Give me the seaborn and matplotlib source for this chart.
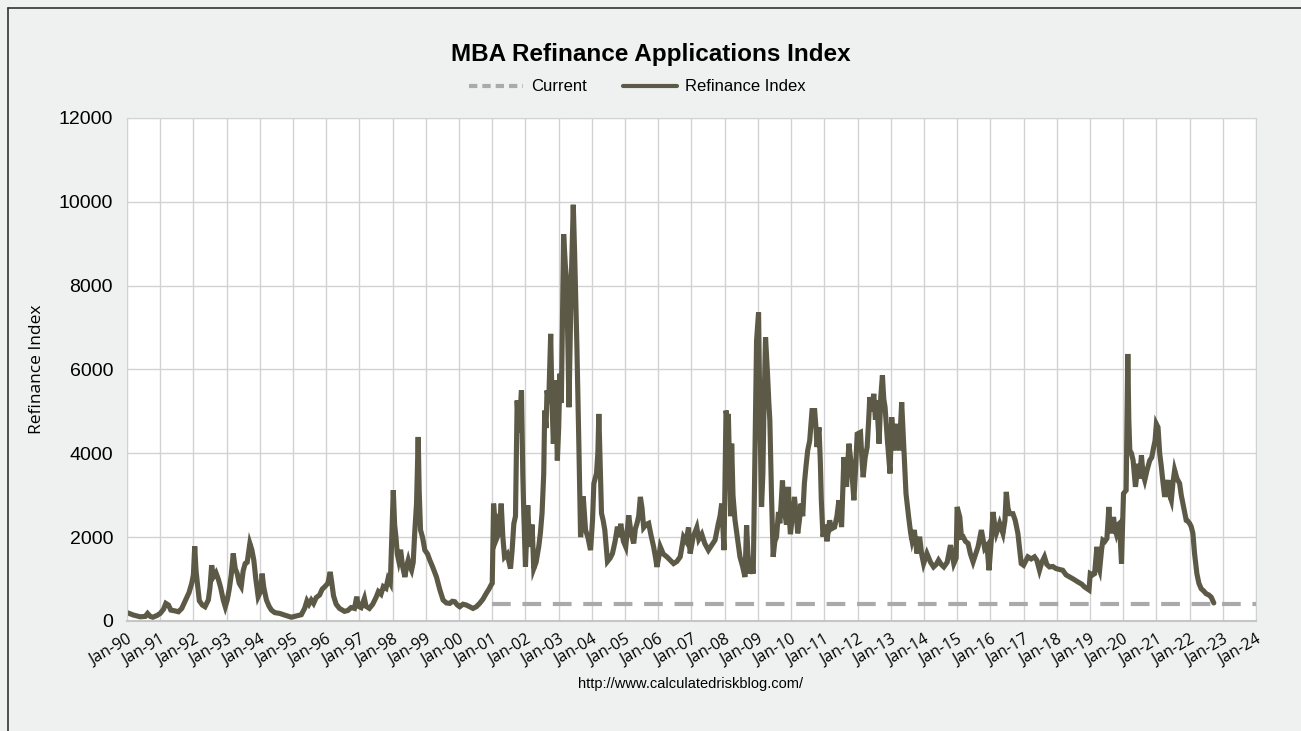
import pandas as pd
import matplotlib.pyplot as plt
import seaborn as sns
from matplotlib.lines import Line2D

# values (decimal year, index)
years_90s = [1990.0, 1990.2, 1990.4, 1990.55, 1990.62, 1990.7, 1990.78, 1990.9, 1991.0, 1991.1,
             1991.17, 1991.25, 1991.32, 1991.45, 1991.55, 1991.65, 1991.72, 1991.8, 1991.87, 1991.95,
             1992.0, 1992.04, 1992.08, 1992.12, 1992.18, 1992.27, 1992.35, 1992.45, 1992.5, 1992.55,
             1992.6, 1992.68, 1992.75, 1992.82, 1992.9, 1992.96, 1993.02, 1993.08, 1993.14, 1993.2,
             1993.26, 1993.32, 1993.38, 1993.44, 1993.5, 1993.56, 1993.62, 1993.7, 1993.76, 1993.82,
             1993.88, 1993.95, 1994.02, 1994.07, 1994.12, 1994.2, 1994.28, 1994.35, 1994.45, 1994.6,
             1994.75, 1994.95, 1995.1, 1995.25, 1995.35, 1995.42, 1995.48, 1995.55, 1995.62, 1995.7,
             1995.8, 1995.88, 1995.96, 1996.05, 1996.12, 1996.17, 1996.22, 1996.3, 1996.4, 1996.55,
             1996.65, 1996.75, 1996.85, 1996.92, 1996.97, 1997.05, 1997.15, 1997.2, 1997.3, 1997.4,
             1997.5, 1997.57, 1997.65, 1997.72, 1997.8, 1997.86, 1997.93, 1998.02, 1998.06, 1998.1,
             1998.14, 1998.18, 1998.24, 1998.3, 1998.37, 1998.42, 1998.47, 1998.52, 1998.57, 1998.62,
             1998.67, 1998.72, 1998.77, 1998.8, 1998.84, 1998.9, 1998.97, 1999.05, 1999.12, 1999.2,
             1999.32, 1999.42, 1999.52, 1999.62, 1999.72, 1999.8, 1999.87, 1999.95]
index_90s = [200, 140, 100, 110, 180, 110, 90, 130, 180, 280,
             420, 380, 260, 240, 220, 300, 420, 560, 680, 900,
             1100, 1780, 1200, 900, 480, 380, 340, 500, 800, 1330,
             1050, 1150, 1000, 800, 500, 340, 500, 760, 1100, 1610,
             1250, 1130, 900, 820, 1200, 1370, 1400, 1850, 1700, 1450,
             1000, 580, 700, 1130, 800, 500, 350, 260, 200, 180,
             140, 90, 120, 150, 300, 480, 400, 500, 420, 560,
             620, 760, 820, 900, 1170, 900, 600, 400, 300, 230,
             250, 320, 300, 580, 350, 320, 540, 350, 300, 400,
             560, 700, 640, 820, 780, 1000, 900, 3120, 2300, 2000,
             1600, 1450, 1700, 1300, 1050, 1300, 1450, 1300, 1210, 1400,
             2170, 2800, 4390, 3100, 2170, 2000, 1690, 1600, 1450, 1300,
             1050, 750, 500, 430, 420, 470, 460, 380]

years_00s = [2000.02, 2000.12, 2000.22, 2000.32, 2000.42, 2000.52, 2000.62, 2000.72, 2000.82, 2000.9,
             2000.96, 2001.0, 2001.04, 2001.08, 2001.12, 2001.15, 2001.2, 2001.27, 2001.32, 2001.37,
             2001.45, 2001.55, 2001.6, 2001.65, 2001.7, 2001.75, 2001.8, 2001.88, 2001.92, 2001.95,
             2002.0, 2002.07, 2002.11, 2002.15, 2002.2, 2002.25, 2002.32, 2002.4, 2002.45, 2002.5,
             2002.55, 2002.58, 2002.62, 2002.65, 2002.7, 2002.76, 2002.8, 2002.84, 2002.88, 2002.91,
             2002.96, 2003.0, 2003.04, 2003.08, 2003.12, 2003.15, 2003.2, 2003.24, 2003.28, 2003.31,
             2003.35, 2003.38, 2003.41, 2003.44, 2003.48, 2003.5, 2003.55, 2003.61, 2003.66, 2003.7,
             2003.74, 2003.78, 2003.81, 2003.88, 2003.96, 2004.02, 2004.06, 2004.14, 2004.18, 2004.21,
             2004.25, 2004.29, 2004.34, 2004.39, 2004.43, 2004.47, 2004.55, 2004.62, 2004.7, 2004.77,
             2004.82, 2004.87, 2004.95, 2005.02, 2005.07, 2005.11, 2005.18, 2005.26, 2005.31, 2005.36,
             2005.41, 2005.46, 2005.51, 2005.56, 2005.63, 2005.71, 2005.78, 2005.86, 2005.92, 2005.96,
             2006.02, 2006.06, 2006.15, 2006.26, 2006.36, 2006.46, 2006.56, 2006.66, 2006.72, 2006.76,
             2006.84, 2006.91, 2006.96, 2007.05, 2007.16, 2007.22, 2007.31, 2007.4, 2007.51, 2007.6,
             2007.71, 2007.81, 2007.86, 2007.91, 2007.98, 2008.04, 2008.08, 2008.11, 2008.15, 2008.18,
             2008.21, 2008.25, 2008.31, 2008.38, 2008.46, 2008.54, 2008.61, 2008.66, 2008.7, 2008.76,
             2008.82, 2008.86, 2008.91, 2008.96, 2009.02, 2009.06, 2009.11, 2009.15, 2009.18, 2009.23,
             2009.29, 2009.33, 2009.36, 2009.41, 2009.46, 2009.51, 2009.56, 2009.62, 2009.66, 2009.7,
             2009.74, 2009.78, 2009.81, 2009.86, 2009.91, 2009.95, 2009.98]
index_00s = [340, 400, 380, 340, 300, 340, 420, 520, 660, 760,
             850, 900, 2800, 2400, 2550, 2000, 2100, 2800, 2000, 1530,
             1600, 1250, 1700, 2320, 2500, 5260, 4500, 5500, 3500, 2570,
             1290, 2760, 2000, 1770, 2300, 1250, 1400, 1770, 2100, 2570,
             3500, 5020, 4600, 5500, 5200, 6850, 5200, 4230, 5000, 5740,
             3830, 4600, 5900, 5200, 7500, 9230, 8500, 8120, 6500, 5100,
             6800, 8120, 9000, 9930, 8800, 8120, 6530, 4150, 2000, 2400,
             2970, 2500, 2170, 2000, 1690, 2400, 3280, 3520, 4000, 4940,
             3800, 2570, 2400, 2170, 1800, 1420, 1500, 1610, 1900, 2250,
             2000, 2320, 1900, 1770, 2200, 2520, 2100, 1850, 2200, 2330,
             2500, 2960, 2700, 2230, 2300, 2330, 2050, 1770, 1500, 1290,
             1550, 1770, 1600, 1530, 1450, 1370, 1420, 1530, 1800, 2000,
             1900, 2230, 1610, 2000, 2230, 1950, 2070, 1850, 1690, 1800,
             1930, 2330, 2500, 2800, 1690, 5020, 4800, 4940, 3500, 2500,
             4230, 3000, 2410, 2000, 1530, 1300, 1050, 2280, 1600, 1130,
             1300, 1130, 3830, 6690, 7360, 4940, 2720, 3500, 4940, 6770,
             5890, 5200, 4780, 3000, 1530, 1900, 2000, 2600, 2330, 2800,
             3350, 2700, 2570, 2300, 3200, 2400, 2070]

years_10s = [2010.05, 2010.1, 2010.16, 2010.2, 2010.25, 2010.3, 2010.35, 2010.4, 2010.45, 2010.5,
             2010.56, 2010.63, 2010.71, 2010.75, 2010.78, 2010.84, 2010.88, 2010.91, 2010.96, 2011.02,
             2011.08, 2011.16, 2011.22, 2011.31, 2011.38, 2011.44, 2011.52, 2011.59, 2011.63, 2011.67,
             2011.74, 2011.82, 2011.89, 2011.94, 2011.99, 2012.09, 2012.13, 2012.17, 2012.23, 2012.29,
             2012.33, 2012.37, 2012.43, 2012.49, 2012.54, 2012.58, 2012.65, 2012.7, 2012.75, 2012.79,
             2012.83, 2012.9, 2012.98, 2013.03, 2013.1, 2013.15, 2013.2, 2013.26, 2013.33, 2013.4,
             2013.46, 2013.54, 2013.6, 2013.64, 2013.71, 2013.79, 2013.87, 2013.93, 2013.99, 2014.09,
             2014.2, 2014.29, 2014.37, 2014.44, 2014.52, 2014.6, 2014.7, 2014.8, 2014.9, 2014.97,
             2015.0, 2015.08, 2015.13, 2015.18, 2015.25, 2015.33, 2015.4, 2015.48, 2015.56, 2015.63,
             2015.73, 2015.83, 2015.9, 2015.96, 2016.03, 2016.08, 2016.13, 2016.18, 2016.28, 2016.38,
             2016.44, 2016.48, 2016.53, 2016.58, 2016.68, 2016.75, 2016.83, 2016.9, 2016.93, 2017.0,
             2017.08, 2017.13, 2017.23, 2017.33, 2017.4, 2017.48, 2017.55, 2017.63, 2017.7, 2017.78,
             2017.88, 2017.98, 2018.08, 2018.18, 2018.28, 2018.39, 2018.5, 2018.64, 2018.75, 2018.84,
             2018.97, 2019.01, 2019.08, 2019.14, 2019.21, 2019.25, 2019.29, 2019.35, 2019.39, 2019.45,
             2019.51, 2019.57, 2019.6, 2019.64, 2019.71, 2019.75, 2019.79, 2019.85, 2019.89, 2019.95]
index_10s = [2600, 2960, 2500, 2090, 2400, 2800, 2500, 3280, 3700, 4070,
             4300, 5020, 5020, 4600, 4150, 4620, 3800, 2880, 2010, 2300,
             1900, 2400, 2200, 2240, 2500, 2880, 2240, 3910, 3500, 3200,
             4230, 3680, 2880, 3600, 4460, 4500, 3900, 3430, 3900, 4150,
             4700, 5340, 5000, 5420, 4800, 5260, 4230, 5340, 5860, 5300,
             5100, 4310, 3520, 4860, 4070, 4500, 4700, 4070, 5220, 4070,
             3040, 2480, 2100, 1930, 2170, 1610, 2010, 1600, 1370, 1610,
             1400, 1290, 1350, 1450, 1350, 1290, 1400, 1810, 1370, 1500,
             2720, 2480, 2000, 2010, 1900, 1850, 1600, 1410, 1600, 1770,
             2170, 1730, 1800, 1210, 1930, 2600, 2300, 2090, 2330, 2090,
             2400, 3080, 2700, 2560, 2560, 2400, 2090, 1600, 1370, 1330,
             1450, 1530, 1480, 1530, 1450, 1210, 1400, 1530, 1350, 1290,
             1300, 1250, 1230, 1210, 1100, 1050, 1000, 930, 880, 810,
             740, 1130, 1100, 1130, 1770, 1300, 1210, 1700, 1930, 1900,
             1970, 2720, 2300, 2090, 2480, 2200, 2090, 2300, 2330, 1370]

years_20s = [2020.01, 2020.09, 2020.14, 2020.17, 2020.2, 2020.25, 2020.3, 2020.37, 2020.45, 2020.5,
             2020.55, 2020.6, 2020.65, 2020.72, 2020.8, 2020.86, 2020.92, 2020.96, 2021.0, 2021.05,
             2021.1, 2021.15, 2021.2, 2021.25, 2021.3, 2021.35, 2021.4, 2021.45, 2021.5, 2021.55,
             2021.62, 2021.7, 2021.75, 2021.8, 2021.85, 2021.9, 2021.95, 2022.0, 2022.05, 2022.1,
             2022.15, 2022.22, 2022.28, 2022.35, 2022.42, 2022.5, 2022.58, 2022.65, 2022.73]
index_20s = [3040, 3120, 6370, 4800, 4070, 4000, 3830, 3200, 3750, 3400,
             3950, 3500, 3360, 3600, 3830, 3900, 4150, 4300, 4700, 4620,
             4000, 3680, 3300, 2960, 3200, 3360, 3000, 2880, 3300, 3600,
             3400, 3280, 3000, 2800, 2600, 2400, 2380, 2330, 2250, 2090,
             1610, 1130, 900, 770, 720, 650, 620, 570, 430]

current_years = [2001.0, 2024.0]
current_level = [410, 410]

tick_years = list(range(1990, 2025))
tick_labels = ["Jan-%02d" % (y % 100) for y in tick_years]

df = pd.DataFrame({
    "year": years_90s + years_00s + years_10s + years_20s,
    "index": index_90s + index_00s + index_10s + index_20s,
})

bg = "#eff1f0"
line_col = "#5c5a47"
cur_col = "#aaaaad"
grid_col = "#d2d2d2"

sns.set_style("white")
plt.rcParams["font.family"] = ["Liberation Sans", "DejaVu Sans"]
plt.rcParams["text.color"] = "black"
plt.rcParams["axes.labelcolor"] = "black"
plt.rcParams["xtick.labelcolor"] = "black"
plt.rcParams["ytick.labelcolor"] = "black"

fig = plt.figure(figsize=(13.01, 7.31), dpi=100, facecolor=bg)
ax = fig.add_axes([0.0976, 0.1505, 0.8678, 0.6881])
ax.set_facecolor("white")

sns.lineplot(x=current_years, y=current_level, ax=ax, color=cur_col, lw=3,
             linestyle=(0, (4.5, 2.8)), estimator=None)
sns.lineplot(data=df, x="year", y="index", ax=ax, color=line_col, lw=3.7,
             estimator=None, sort=False, solid_joinstyle="miter")

ax.set_xlim(1990, 2024)
ax.set_ylim(0, 12000)
ax.set_xticks(tick_years)
ax.set_xticklabels(tick_labels, rotation=30, ha="right", rotation_mode="anchor",
                   fontsize=11.5, family=["Open Sans", "DejaVu Sans"])
ax.set_yticks(range(0, 12001, 2000))
ax.tick_params(axis="y", labelsize=14, length=6, color=grid_col, pad=4)
ax.tick_params(axis="x", length=6, color=grid_col, pad=2)
ax.grid(True, color=grid_col, lw=1)
for s in ax.spines.values():
    s.set_color(grid_col)
ax.spines["bottom"].set_color("#c6c6c6")
ax.spines["bottom"].set_linewidth(1.5)

ax.set_xlabel("")
ax.set_ylabel("Refinance Index", fontsize=12.5, family=["Open Sans", "DejaVu Sans"], labelpad=10)

fig.text(0.5, 0.925, "MBA Refinance Applications Index", ha="center", va="center",
         fontsize=17.5, fontweight="bold")
handles = [Line2D([], [], color=cur_col, lw=3, linestyle=(0, (2, 1.2))),
           Line2D([], [], color=line_col, lw=3)]
fig.legend(handles, ["Current", "Refinance Index"], loc="center", bbox_to_anchor=(0.49, 0.881),
           ncol=2, frameon=False, fontsize=12, handlelength=3.2, columnspacing=2.2, handletextpad=0.5)
fig.text(0.531, 0.064, "http://www.calculatedriskblog.com/", ha="center", va="center", fontsize=10.5)

# outer frame
fig.add_artist(Line2D([0.006, 0.006], [0, 0.989], transform=fig.transFigure, color="#333333", lw=1.2))
fig.add_artist(Line2D([0.006, 1.0], [0.989, 0.989], transform=fig.transFigure, color="#333333", lw=1.2))

fig.savefig("out.png", dpi=100, facecolor=bg)
